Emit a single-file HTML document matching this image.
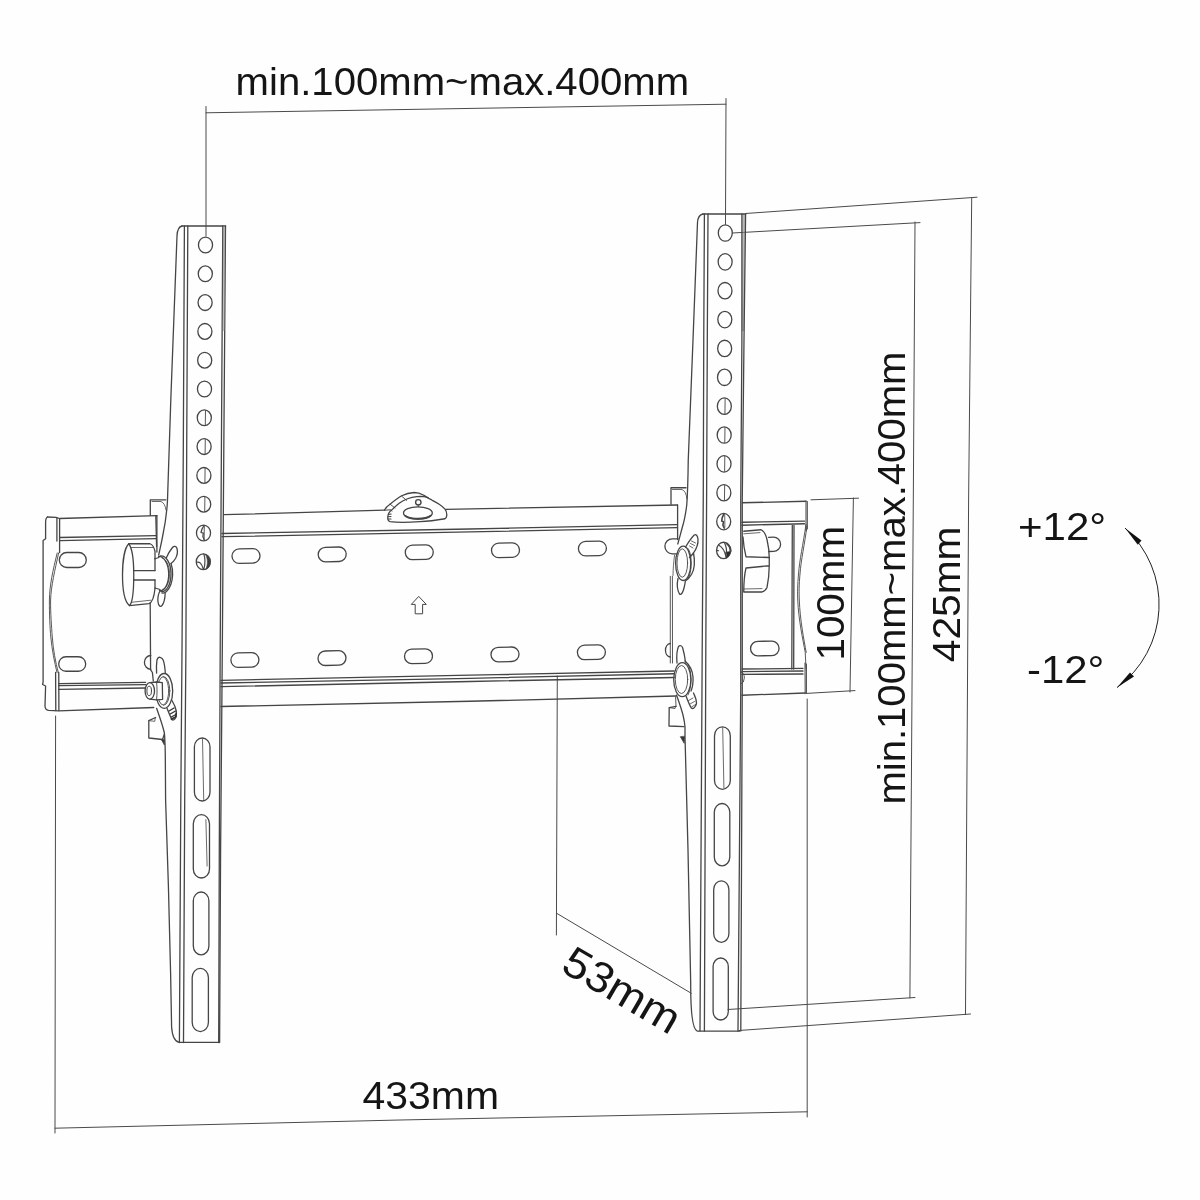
<!DOCTYPE html>
<html><head><meta charset="utf-8"><title>TV wall mount dimensions</title>
<style>
html,body{margin:0;padding:0;background:#fefefe;}
body{width:1200px;height:1200px;overflow:hidden;font-family:"Liberation Sans",sans-serif;}
svg{display:block;filter:grayscale(1)}
text{font-family:"Liberation Sans",sans-serif;fill:#151515;}
</style></head><body>
<svg width="1200" height="1200" viewBox="0 0 1200 1200">
<rect width="1200" height="1200" fill="#fefefe"/>

<g fill="none" stroke="#4a4a4a" stroke-width="1" stroke-linecap="round">
<path d="M206,106.5 L206,236"/>
<path d="M206,112.8 L726,104.2"/>
<path d="M726,98.5 L725.5,224.5"/>
<path d="M745.6,213.5 L977,197.2"/>
<path d="M971.7,198 L968.6,500 L965.5,1014.5"/>
<path d="M739,1030.5 L970.5,1014"/>
<path d="M732.5,233 L920,222.6"/>
<path d="M915,222 L913.3,500 L909.9,998"/>
<path d="M728,1009.5 L915,997.5"/>
<path d="M811,499.8 L858.5,498.2"/>
<path d="M853.4,498 L850,692"/>
<path d="M806.5,693.4 L855,690.6"/>
<path d="M55.6,716 L55,1133"/>
<path d="M55,1128.2 L400,1120 L807.2,1111.8"/>
<path d="M807.2,699 L807.2,1117"/>
<path d="M557.3,676 L556.4,935"/>
<path d="M556.7,913.3 L691.3,993.3"/>
</g>
<g fill="none" stroke="#454545" stroke-width="1.3" stroke-linecap="round" stroke-linejoin="round">
<path d="M47.5,517 L56,517.4 L59.4,518.5 L156.9,515.6"/>
<path d="M47.5,517 Q45.6,518 45.6,522.5 L45.6,538.7 L43.1,540.6 L43.1,682 L42.6,684.5 L45.6,686 L45,706 Q45.2,710 48.5,710.3 L58.75,710.8 L153.75,707.5"/>
<path d="M56.9,517.6 L56.9,541 M59.6,518.6 L59.6,552.5"/>
<path d="M55.6,672.5 L55.8,710.6 M58.75,672.5 L58.9,710.6"/>
<path d="M57.2,553 C53,570 49.6,585 49.4,600 C49.3,615 50,628 50.8,637 C52,650 54.5,662 57,672.5" stroke-width="0.9"/>
<path d="M58.6,553 C55,570 51,586 50.6,600 C50.4,613 51.6,627 52.2,636 C53.2,650 55.5,662 58.3,672.5" stroke-width="0.9"/>
<path d="M59.6,537.5 L156,535.6 M59.6,540.6 L156,538.7"/>
<path d="M156.9,515.6 L156.9,552"/>
<path d="M150.2,603 L150.6,669.8 L152.4,672.5 L153.3,681"/>
<path d="M150.8,655.5 A6.4,6.9 0 0 0 150.8,669.3"/>
<path d="M58.75,683.6 L145.6,682.3 M58.75,685.7 L145.6,684.6 M58.75,689.4 L145.6,688"/>
<rect x="59.30" y="552.50" width="27" height="15" rx="7.5" ry="7.5" transform="rotate(0 72.80 560.00)"/>
<rect x="58.70" y="656.75" width="27" height="14.5" rx="7.25" ry="7.25" transform="rotate(0 72.20 664.00)"/>
<path d="M224,514.7 L384.6,510.2"/>
<path d="M445.8,509.3 L677.5,505"/>
<path d="M222,533.5 L470,529 L677,524.6 M222,536.7 L470,531.9 L677,527.7"/>
<path d="M221,680.4 L470,675.2 L674,671 M221,683 L470,678.3 L674,673.75 M221,686.7 L470,681.5 L674,677.5"/>
<path d="M221,706.5 L470,701.25 L676,696"/>
<path d="M677.6,505 L677.6,539.5"/>
<rect x="232.00" y="548.75" width="28" height="14.5" rx="7.25" ry="7.25" transform="rotate(-1.2 246.00 556.00)"/>
<rect x="318.20" y="547.15" width="28" height="14.5" rx="7.25" ry="7.25" transform="rotate(-1.2 332.20 554.40)"/>
<rect x="405.25" y="545.05" width="28" height="14.5" rx="7.25" ry="7.25" transform="rotate(-1.2 419.25 552.30)"/>
<rect x="491.50" y="543.00" width="28" height="14.5" rx="7.25" ry="7.25" transform="rotate(-1.2 505.50 550.25)"/>
<rect x="578.40" y="541.25" width="28" height="14.5" rx="7.25" ry="7.25" transform="rotate(-1.2 592.40 548.50)"/>
<rect x="230.90" y="652.75" width="28" height="14.5" rx="7.25" ry="7.25" transform="rotate(-1.2 244.90 660.00)"/>
<rect x="318.00" y="650.85" width="28" height="14.5" rx="7.25" ry="7.25" transform="rotate(-1.2 332.00 658.10)"/>
<rect x="404.50" y="648.95" width="28" height="14.5" rx="7.25" ry="7.25" transform="rotate(-1.2 418.50 656.20)"/>
<rect x="491.00" y="647.15" width="28" height="14.5" rx="7.25" ry="7.25" transform="rotate(-1.2 505.00 654.40)"/>
<rect x="577.40" y="645.05" width="28" height="14.5" rx="7.25" ry="7.25" transform="rotate(-1.2 591.40 652.30)"/>
<path d="M419,596.7 L426.3,604.4 L422.6,604.4 L422.6,613.8 L415.2,613.8 L415.2,604.4 L411.7,604.4 Z" stroke-width="1"/>
<path d="M384.6,510 C386,507 388,505.5 390,504.2 C394,501 398,498 401.7,495.8 C406,493.5 410,492.6 414.2,492.5 C418,492.5 421,493.7 423.3,495 C425,496 427,497.2 428.3,497.9"/>
<path d="M390,521.7 C388.5,521 387.9,520.3 387.9,519.2 C387.6,517 388,515 388.75,513.3 C389.5,511.5 391,510.3 392.5,509.2 C394.5,507.3 397,505 399.2,503.3 C401.5,501.5 404.5,499.8 407.5,498.75 C410.5,497.7 413.5,497 416.7,496.7 C419,496.5 422,496.4 424.2,496.7 C427,497.2 429.5,498.8 431.7,500 C434.5,501.5 437,502.8 439.2,504.2 C441.5,505.7 443.5,507.3 445,509.2 C446.3,511 447,513.5 446.7,515.8 C446.5,517.3 446,518.2 445,518.75 C436,520.3 428,521.3 420,521.7 C410,522.3 398,522.6 390,521.7 Z"/>
<path d="M401.7,496.2 L406.7,500.4 M390,504.2 L395,507.9" stroke-width="0.9"/>
<path d="M388.3,514.5 L391.2,514 M387.9,516.8 L391,516.5 M388,519 L391,519" stroke-width="1.1"/>
<path d="M384.6,510.2 L390.5,509.8 L392,511" stroke-width="1"/>
<ellipse cx="417.9" cy="512.9" rx="14.4" ry="6.1" stroke-width="1.3"/>
<path d="M405.5,516 C410,519.8 426,519.8 430.5,515.8" stroke-width="2"/>
<circle cx="418.3" cy="502.3" r="2.7" stroke-width="1.4"/>
<path d="M418.3,505 L418.3,506.8" stroke-width="0.8"/>
<path d="M742.25,502.75 L806,501.25"/>
<path d="M806,501 L806,531 M807.3,501.5 L807.3,529" stroke-width="1"/>
<path d="M742,522.25 L804.5,521.2 M742,525.25 L804.5,523.75"/>
<path d="M792.3,525.3 L791.8,669 M794,525.3 L793.7,669"/>
<path d="M742,669 L803,668.4 M742,671.7 L803,671 M742,674.4 L803,674"/>
<path d="M742,695.25 L805.25,693"/>
<path d="M805,663 L805.2,693.75 M806.4,664 L806.4,693" stroke-width="1"/>
<path d="M806,524.5 C803,545 799.5,560 798.5,574 C797.6,585 797.4,592 797.75,600 C798.5,620 803,640 805.25,652.5 L806,669" stroke-width="0.9"/>
<path d="M807,526 C804.5,545 801,560 800,574 C799,585 799,592 799.3,600 C800,620 804,640 806.2,652.5" stroke-width="0.9"/>
<rect x="750.55" y="641.25" width="28.5" height="14.5" rx="7.25" ry="7.25" transform="rotate(-0.5 764.80 648.50)"/>
<path d="M768.5,537.3 L773.5,537.2 A7.1,7.1 0 0 1 773.5,551.4 L768.8,551.5"/>
<path d="M741,672 Q744.5,673 744.3,678 Q744.2,683 741,684" stroke-width="0.9"/>
<path d="M182,226 L225.5,226" stroke-width="1.5"/>
<path d="M182,226 Q177.3,227 177,236 L170.8,400 L167.5,500 C167,512 165,525 162.5,537 C161,545 159.5,551 158.7,555"/>
<path d="M184.4,226 L183.3,450 L182,650 L180.8,800 L179.4,1042.5"/>
<path d="M187.8,226 L186.7,450 L185.9,650 L184.7,800 L183.5,1042.5"/>
<path d="M222.8,226 L221.4,450 L220.2,650 L219.3,850 L218.7,1042.5"/>
<path d="M225.5,226 L223.8,450 L222.3,650 L220.6,850 L219.6,1042.5"/>
<path d="M156.6,708.3 C159,715 162.5,725 164.4,733 C165,740 165.2,748 165.3,755 L165.6,800 L168.4,886 L170.6,973 L171.6,1027 Q172.5,1041 179.2,1042.4 L219.5,1042.4"/>
<ellipse cx="205.50" cy="245.00" rx="7.05" ry="7.9"/>
<ellipse cx="205.30" cy="273.80" rx="7.05" ry="7.9"/>
<ellipse cx="205.10" cy="302.60" rx="7.05" ry="7.9"/>
<ellipse cx="204.90" cy="331.40" rx="7.05" ry="7.9"/>
<ellipse cx="204.70" cy="360.20" rx="7.05" ry="7.9"/>
<ellipse cx="204.50" cy="389.00" rx="7.05" ry="7.9"/>
<ellipse cx="204.30" cy="417.80" rx="7.05" ry="7.9"/>
<path d="M205.50,410.50 L205.30,425.10" stroke-width="0.9"/>
<ellipse cx="204.10" cy="446.60" rx="7.05" ry="7.9"/>
<path d="M205.30,439.30 L205.10,453.90" stroke-width="0.9"/>
<ellipse cx="203.90" cy="475.40" rx="7.05" ry="7.9"/>
<path d="M205.10,468.10 L204.90,482.70" stroke-width="0.9"/>
<ellipse cx="203.70" cy="504.20" rx="7.05" ry="7.9"/>
<path d="M204.90,496.90 L204.70,511.50" stroke-width="0.9"/>
<ellipse cx="203.50" cy="533.00" rx="7.05" ry="7.9"/>
<path d="M204.10,525.50 L202.00,529.00 L201.00,532.50 L203.30,533.20 L202.90,536.50 L204.30,540.00" stroke-width="1.3"/>
<path d="M204.30,526.00 L204.10,539.50" stroke-width="1" stroke="#555"/>
<ellipse cx="203.30" cy="561.80" rx="7.05" ry="7.9"/>
<path d="M196.50,562.30 C199.30,561.30 201.80,563.30 203.30,569.30 M203.90,554.10 C205.30,558.80 205.30,563.80 203.90,568.80" stroke-width="1.2"/>
<path d="M205.50,554.60 C209.30,556.80 210.90,560.80 209.90,564.80 C209.10,567.30 207.30,568.80 205.90,569.20 C207.80,564.80 208.10,558.80 205.50,554.60 Z" fill="#3a3a3a" stroke-width="0.6"/>
<rect x="194.40" y="738.00" width="15.60" height="63.00" rx="7.80" ry="8.80"/><path d="M202.50,739.00 L203.70,799.50" stroke-width="0.8"/>
<rect x="193.30" y="814.70" width="16.20" height="63.30" rx="8.10" ry="9.10"/><path d="M205.90,819.70 L207.10,866.00" stroke-width="0.8"/>
<rect x="193.30" y="892.00" width="15.60" height="62.80" rx="7.80" ry="8.80"/>
<rect x="192.20" y="968.40" width="16.20" height="63.20" rx="8.10" ry="9.10"/>
<path d="M150.3,515.3 L150.3,499.8 L165.8,499.8"/>
<path d="M152,501.5 L161,501.5 Q165,503 166,510" stroke-width="0.8"/>
<path d="M155.8,516 L156.6,546.5"/>
<path d="M155.6,717.5 L148.8,720.7 L148.8,738 L162.5,739.5 L164.4,734"/>
<path d="M148.8,720.7 L154.8,721.3 L155.2,717.8" stroke-width="0.8"/>
<path d="M161.6,740 L164.4,745 L164.3,739.6 Z" fill="#333" stroke-width="0.8"/>
<path d="M224.1,227 L223.6,330" stroke="#8a8a8a" stroke-width="2.2" opacity="0.55"/>
<path d="M743.7,215 L743,330" stroke="#8a8a8a" stroke-width="2.6" opacity="0.6"/>
<path d="M128.75,543.75 C124.5,548 122.5,562 122.5,575 C122.5,590 125,602 129.4,605.6 C132.5,603 133.8,588 133.75,574 C133.7,560 132,548 128.75,543.75 Z"/>
<path d="M128.75,543.75 L150,543.75 Q153.5,545 155,551.25 L155,558.75"/>
<path d="M129.4,605.6 L149,603.6 Q153.6,602 155,588.5"/>
<path d="M131,547.5 L153,547.5 M131.5,602.3 L150.8,600.2" stroke-width="0.8"/>
<path d="M133.5,570.6 L155,570.6 M133.5,580 L155,580"/>
<path d="M155,558.75 L155,570.6 M155,580 L155,588"/>
<path d="M155,558.75 L159,557.5 M155,588 L160,589.5"/>
<path d="M158.5,556.5 C163.5,556 168.5,563 168.7,573.5 C168.9,584 164.5,591.5 159.5,590.5"/>
<path d="M160.5,556 C166,555.5 171,563 171,574 C171,585 166,592.5 161,591.5"/>
<path d="M162,558 C166,559 169.5,565 169.6,573.5 C169.7,582 166.5,588.5 162.5,589.5" stroke-width="0.8"/>
<path d="M171,563.5 C172.3,567 172.8,571 172.6,575 C172.3,582 170,588 166.5,591.5 C165,593 163.5,593.3 162,593"/>
<path d="M166.5,557.5 C168,553.5 170.5,550 172.5,547.5 C174,545.6 176.3,546 177,548.5 C177.8,551.5 177.2,555.5 175.5,558.5 C174,561 172.5,562.5 171,563.5"/>
<path d="M160,591 C158.3,594 157.5,598 158,602 C158.5,606 160.5,607.3 162,605.5 C164,603 165,598 165.2,593.5"/>
<ellipse cx="164.2" cy="690.9" rx="8.5" ry="17.4"/>
<ellipse cx="163.6" cy="690.9" rx="6.2" ry="14.3" stroke-width="0.9"/>
<path d="M163,676.5 C166.5,678 168.6,684 168.6,691 C168.6,698 166.5,703.5 163.5,705" stroke-width="0.9"/>
<path d="M149.8,682.7 L156.6,682 L162.3,682.6 L162.6,699.3 L156.6,699.9 L149.8,699.1 Z" fill="#fefefe"/>
<path d="M156.6,682 C157.2,688 157.2,694 156.6,699.9" stroke-width="0.9"/>
<ellipse cx="149.8" cy="690.9" rx="4.7" ry="8.2" fill="#fefefe"/>
<ellipse cx="149.2" cy="690.9" rx="2.3" ry="4.7" stroke-width="1"/>
<path d="M156.6,673 C156.3,668 156.5,663 157,659.7 C157.8,657.5 159,657 160.2,657.4 C161.8,657.8 162.8,659 163.4,660.6 C164.5,664 165,668.5 165.3,672.7"/>
<path d="M167,708.3 C168.5,712 170,716 171.7,719.3 C173,720.8 175,719.5 175.6,717.5 C176.4,715.5 176.5,713 176.3,711 C175.5,707 173.8,703.5 171.7,700"/>
<path d="M169,711 L174,708 M170.2,714 L175.5,711 M171.3,717 L176,714.5" stroke-width="1.4" stroke="#333"/>
<path d="M171.5,719 L175.8,717 L176.2,713.5" stroke-width="1.8" stroke="#333"/>
<path d="M703,214 L745.6,214" stroke-width="1.5"/>
<path d="M703,214 Q698,215 697.5,222.5 L693,340 L688.25,460 C688,480 687.5,495 686.75,505 C685.5,515 684,522 682.25,527.5 C680.5,534 679,540 677.75,544"/>
<path d="M704.4,214 L703.75,340 L703.25,500 L702.2,650 L700,1031"/>
<path d="M708,214 L707.3,340 L706.6,500 L705.8,650 L704.4,1031"/>
<path d="M741.9,214 L741.9,340 L740.75,500 L740.75,690 L738,1031"/>
<path d="M745.6,214 L744,340 L742.25,500 L742.25,690 L740.8,1031" />
<path d="M676.5,695 C679,702 681.5,709 683,715 C684.2,720 684.8,724 685,727 L685,737 L685.5,755 L688,850 L690.7,983 Q690.5,1029 697.3,1031.2 L739.5,1031.2"/>
<ellipse cx="725.30" cy="233.00" rx="7" ry="8.2"/>
<ellipse cx="725.14" cy="261.86" rx="7" ry="8.2"/>
<ellipse cx="724.98" cy="290.72" rx="7" ry="8.2"/>
<ellipse cx="724.82" cy="319.58" rx="7" ry="8.2"/>
<ellipse cx="724.66" cy="348.44" rx="7" ry="8.2"/>
<ellipse cx="724.50" cy="377.30" rx="7" ry="8.2"/>
<ellipse cx="724.34" cy="406.16" rx="7" ry="8.2"/>
<path d="M725.14,398.66 L724.94,413.66" stroke-width="0.9"/>
<ellipse cx="724.18" cy="435.02" rx="7" ry="8.2"/>
<path d="M724.98,427.52 L724.78,442.52" stroke-width="0.9"/>
<ellipse cx="724.02" cy="463.88" rx="7" ry="8.2"/>
<path d="M724.82,456.38 L724.62,471.38" stroke-width="0.9"/>
<ellipse cx="723.86" cy="492.74" rx="7" ry="8.2"/>
<path d="M724.66,485.24 L724.46,500.24" stroke-width="0.9"/>
<ellipse cx="723.70" cy="521.60" rx="7" ry="8.2"/>
<path d="M724.00,513.80 L722.20,517.60 L721.70,521.10 L723.50,521.80 L722.90,525.10 L724.30,528.10" stroke-width="1.6" stroke="#444"/>
<path d="M724.70,514.60 L724.90,527.10" stroke-width="1" stroke="#666"/>
<ellipse cx="723.54" cy="550.46" rx="7" ry="8.2"/>
<path d="M718.54,544.96 C721.54,546.46 724.54,549.46 726.04,556.96 M716.54,550.46 L718.54,550.76 M724.54,542.76 C726.54,547.46 726.74,551.46 726.14,553.46" stroke-width="1.2"/>
<path d="M726.54,551.96 L730.54,551.46 C730.34,554.46 728.54,556.96 726.14,558.06 Z" fill="#2a2a2a" stroke-width="0.6"/>
<path d="M727.04,543.66 C729.74,545.96 730.84,548.96 730.54,551.46" stroke-width="2"/>
<rect x="714.50" y="726.80" width="15.80" height="62.50" rx="7.90" ry="8.90"/><path d="M722.70,727.80 L723.90,787.80" stroke-width="0.8"/>
<rect x="714.30" y="803.50" width="15.50" height="62.30" rx="7.75" ry="8.75"/>
<rect x="713.70" y="880.80" width="15.20" height="61.50" rx="7.60" ry="8.60"/>
<rect x="713.10" y="958.00" width="15.20" height="62.00" rx="7.60" ry="8.60"/>
<path d="M671,504.3 L671,487.75 L686,487.75"/>
<path d="M672.5,489.5 L682,489.5 Q686,491 687,499" stroke-width="0.8"/>
<path d="M676,706.3 L669.2,707.6 L669,726 L684,726.6"/>
<path d="M669.2,707.6 L675,708.6 L675.6,706.5" stroke-width="0.8"/>
<path d="M675.6,697 L676,706.5" stroke-width="0.9"/>
<path d="M680.5,737 L684.2,743.3 L684.6,736.6 Z" fill="#333" stroke-width="0.8"/>
<path d="M670.3,576.3 L670.3,663 M672.4,576.3 L672.5,663" stroke-width="0.9"/>
<path d="M678,538.8 L672.3,538.8 A7.4,7.5 0 0 0 672.3,553.8 L677,553.8"/>
<path d="M670.3,643.5 A5.5,6.8 0 0 0 670.3,657"/>
<path d="M674.6,555 C673.6,562 673.1,569 673,575.5" stroke-width="0.8"/>
<ellipse cx="683.2" cy="563.3" rx="7.6" ry="17.2"/>
<ellipse cx="682.3" cy="563" rx="5.3" ry="14.2" stroke-width="0.9"/>
<path d="M685.5,547 C688,543 691.5,537.5 694.25,535 C696,533.8 697.5,535.5 698,539 C698.3,543 697,548 693.5,553 C692,555 690.5,556.5 689.5,557.5"/>
<path d="M678,578.5 C677,583 677.3,590 679.5,594 C681,595.5 683,592.5 684,588 C684.8,585 685.2,583 685.3,581"/>
<path d="M688,548.5 C690,551 691,556 691.2,563 C691.3,570 690,576 687.5,579.5" stroke-width="0.9"/>
<path d="M693.5,553 C694.3,557 694.6,561 694.3,565 C693.9,569 693,572 691.75,574 C690,577 688,579.5 685.75,580.75"/>
<path d="M689.5,546 L693,548 M690.5,543.5 L694.5,545.5 M691.5,541 L695.5,543" stroke-width="0.8"/>
<ellipse cx="682.3" cy="679.7" rx="8.6" ry="17"/>
<ellipse cx="681.5" cy="679.5" rx="6.2" ry="14" stroke-width="0.9"/>
<path d="M677,663 C676.5,657 677,650 678.5,646.5 C680,645 682,645.5 682.7,648 C684,652.5 685,658 685.5,662"/>
<path d="M686,696 C687.5,700 689.5,705 691.25,708 C693,709.5 695.5,707.5 696.5,703.5 C696.5,700 695,696 693.5,693"/>
<path d="M688.5,700.5 L693,698 M690,704 L694.5,701.5 M691.5,707 L695.5,704.5" stroke-width="0.8"/>
<path d="M688,664 C690,668 691,673 691,680 C691,686 690,691 688,695" stroke-width="0.9"/>
<path d="M685,661 C689,664.5 692.5,670 693,677 C693.3,683 692.3,688 691,691"/>
<path d="M743.75,531.25 L761,529.75 Q765,531.5 767,539.5 C768.5,546 769.2,552 769.25,557.5"/>
<path d="M743.75,533.8 L760,532.6" stroke-width="0.8"/>
<path d="M743,537 C743.5,545 744.8,552 746,556.75 L769.25,557.5"/>
<path d="M769.25,557.5 L769.25,565.75 L746,568 C744.8,573 743.8,580 743.75,592 L761.75,592 Q765.5,591 767,587.5 C768.5,580 769.2,572 769.25,565.75"/>
<path d="M743.8,589 L762,588.6" stroke-width="0.8"/>
</g>
<g fill="none" stroke="#222" stroke-width="1">
<path d="M1125,528 A103,103 0 0 1 1117,687.6"/>
</g>
<path d="M1125,528 L1141.5,540.5 L1137.8,544.8 Z" fill="#111"/>
<path d="M1117,687.6 L1130,672.5 L1134,676.5 Z" fill="#111"/>
<text x="235.6" y="94.8" font-size="39" textLength="453.5" lengthAdjust="spacingAndGlyphs">min.100mm~max.400mm</text>
<text x="362.5" y="1109" font-size="39" textLength="136.5" lengthAdjust="spacingAndGlyphs">433mm</text>
<text transform="translate(844,660.6) rotate(-90)" font-size="39" textLength="134.8" lengthAdjust="spacingAndGlyphs">100mm</text>
<text transform="translate(904.8,804.6) rotate(-90)" font-size="39" textLength="453" lengthAdjust="spacingAndGlyphs">min.100mm~max.400mm</text>
<text transform="translate(959.5,662.2) rotate(-90)" font-size="39" textLength="135.6" lengthAdjust="spacingAndGlyphs">425mm</text>
<text transform="translate(559.2,970.3) rotate(30.4)" font-size="43" textLength="128.5" lengthAdjust="spacingAndGlyphs">53mm</text>
<text x="1018" y="539.5" font-size="39" textLength="88.2" lengthAdjust="spacingAndGlyphs">+12°</text>
<text x="1027" y="682.7" font-size="39" textLength="77.3" lengthAdjust="spacingAndGlyphs">-12°</text>
</svg></body></html>
